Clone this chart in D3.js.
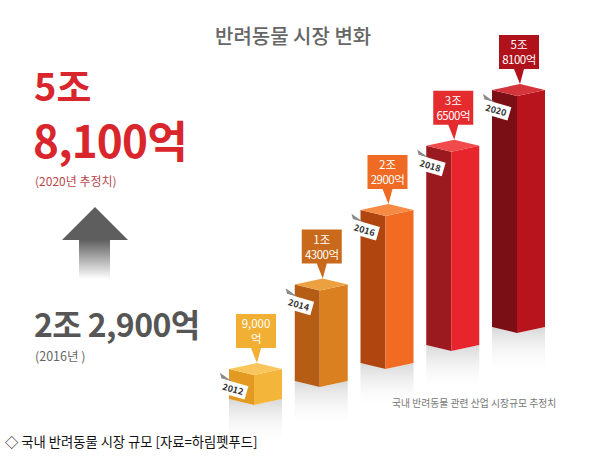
<!DOCTYPE html>
<html>
<head>
<meta charset="utf-8">
<script src="https://cdn.jsdelivr.net/npm/d3@7"></script>
<style>
    body { margin: 0; background: #fff; }
    svg { display: block; font-family: "Noto Sans CJK KR", "Noto Sans", sans-serif; }
</style>
</head>
<body>
<div class="canvas"></div>
<script>
// data (조원 단위)
const years = ['2012', '2014', '2016', '2018', '2020'];
const values = [0.90, 1.43, 2.29, 3.65, 5.81];
const labelTop = ['9,000', '1조', '2조', '3조', '5조'];
const labelBottom = ['억', '4300억', '2900억', '6500억', '8100억'];

// colours per bar
const faceLeft = ['#e39a22', '#b55c15', '#b0450f', '#9b1a20', '#7a0f15'];
const faceRight = ['#f4b53b', '#db8020', '#f26b22', '#e8242c', '#b8141d'];
const faceTop = ['#f8c65c', '#eca140', '#f78b46', '#f14a4c', '#d5353a'];
const boxFill = ['#f1b033', '#c8691b', '#ef6a22', '#e42b2e', '#b0121b'];

const dim = { width: 612, height: 456 };
const bar = { left: 25, right: 28, drop: 6 };

const svg = d3.select('.canvas').append('svg')
    .attr('width', dim.width)
    .attr('height', dim.height);

const defs = svg.append('defs');

const arrowGrad = defs.append('linearGradient')
    .attr('id', 'arrowGrad').attr('x1', 0).attr('y1', 0).attr('x2', 0).attr('y2', 1);
arrowGrad.append('stop').attr('offset', '0%').attr('stop-color', '#5c5c5c');
arrowGrad.append('stop').attr('offset', '100%').attr('stop-color', '#ffffff');

const shadowGrad = defs.append('linearGradient')
    .attr('id', 'shadowGrad').attr('x1', 0).attr('y1', 0).attr('x2', 0).attr('y2', 1);
shadowGrad.append('stop').attr('offset', '0%').attr('stop-color', '#bdbdbd').attr('stop-opacity', 0.6);
shadowGrad.append('stop').attr('offset', '100%').attr('stop-color', '#ffffff').attr('stop-opacity', 0);

// scales
const x = d3.scalePoint().domain(years).range([254, 517]);
const ground = d3.scalePoint().domain(years).range([405, 333]);
const yTop = d3.scalePow().exponent(-0.3).domain(d3.extent(values)).range([375, 96]);

const color = (arr) => d3.scaleOrdinal(years, arr);
const cLeft = color(faceLeft), cRight = color(faceRight), cTop = color(faceTop), cBox = color(boxFill);

const data = years.map((year, i) => ({
    year, value: values[i], l1: labelTop[i], l2: labelBottom[i]
}));

const pts = arr => arr.map(p => p.join(',')).join(' ');

// title
svg.append('text')
    .attr('x', 215).attr('y', 44)
    .attr('font-size', 20).attr('font-weight', 500)
    .attr('fill', '#666')
    .text('반려동물 시장 변화');

// left side summary
svg.append('text').attr('x', 34).attr('y', 101)
    .attr('font-size', 38).attr('font-weight', 700).attr('fill', '#d8262c')
    .attr('letter-spacing', 0)
    .text('5조');
svg.append('text').attr('x', 33).attr('y', 158)
    .attr('font-size', 44).attr('font-weight', 700).attr('fill', '#d8262c')
    .attr('letter-spacing', -0.8)
    .text('8,100억');
svg.append('text').attr('x', 35).attr('y', 186)
    .attr('font-size', 12).attr('fill', '#b8474b')
    .text('(2020년 추정치)');

// arrow
svg.append('path')
    .attr('d', 'M79,239 L110,239 L110,279 L79,279 Z')
    .attr('fill', 'url(#arrowGrad)');
svg.append('path')
    .attr('d', 'M62,240 L95,207 L128,240 Z')
    .attr('fill', '#5e5e5e');

svg.append('text').attr('x', 34).attr('y', 337)
    .attr('font-size', 32).attr('font-weight', 700).attr('fill', '#565656')
    .attr('letter-spacing', -0.6)
    .text('2조 2,900억');
svg.append('text').attr('x', 35).attr('y', 361)
    .attr('font-size', 12.5).attr('fill', '#666')
    .text('(2016년 )');

// bars
const graph = svg.append('g');

const bars = graph.selectAll('g.bar')
    .data(data)
    .enter().append('g')
    .attr('class', 'bar');

// soft reflection on the floor
bars.append('polygon')
    .attr('points', d => {
        const fx = x(d.year), by = ground(d.year);
        return pts([[fx - bar.left, by - bar.drop], [fx, by], [fx + bar.right, by - bar.drop],
            [fx + bar.right, by + 34], [fx, by + 40], [fx - bar.left, by + 34]]);
    })
    .attr('fill', 'url(#shadowGrad)');

bars.append('polygon')
    .attr('points', d => {
        const fx = x(d.year), by = ground(d.year), ty = yTop(d.value);
        return pts([[fx - bar.left, ty - bar.drop], [fx, ty], [fx, by], [fx - bar.left, by - bar.drop]]);
    })
    .attr('fill', d => cLeft(d.year));

bars.append('polygon')
    .attr('points', d => {
        const fx = x(d.year), by = ground(d.year), ty = yTop(d.value);
        return pts([[fx, ty], [fx + bar.right, ty - bar.drop], [fx + bar.right, by - bar.drop], [fx, by]]);
    })
    .attr('fill', d => cRight(d.year));

bars.append('polygon')
    .attr('points', d => {
        const fx = x(d.year), ty = yTop(d.value);
        return pts([[fx - bar.left, ty - bar.drop], [fx + bar.right - bar.left, ty - 2 * bar.drop],
            [fx + bar.right, ty - bar.drop], [fx, ty]]);
    })
    .attr('fill', d => cTop(d.year));

// year tags
const tags = bars.append('g')
    .attr('transform', d => `translate(${x(d.year) - 21}, ${yTop(d.value) + 14}) rotate(16)`);

tags.append('polygon')
    .attr('points', pts([[-14, -7], [-3, -7], [-17, -12]]))
    .attr('fill', '#8a8a8a');
tags.append('rect')
    .attr('x', -14).attr('y', -7).attr('width', 28).attr('height', 14)
    .attr('fill', '#fff');
tags.append('text')
    .attr('text-anchor', 'middle').attr('y', 3.5)
    .attr('font-size', 9).attr('font-weight', 700).attr('fill', '#333')
    .text(d => d.year);

// value callouts
const callouts = bars.append('g')
    .attr('transform', d => `translate(${x(d.year) + 2}, ${yTop(d.value)})`);

callouts.append('path')
    .attr('d', 'M-20,-61 L20,-61 L20,-27 L5,-27 L1,-12 L-5,-27 L-20,-27 Z')
    .attr('fill', d => cBox(d.year));
callouts.append('text')
    .attr('text-anchor', 'middle').attr('y', -47)
    .attr('font-size', 11.5).attr('fill', '#fff')
    .text(d => d.l1);
callouts.append('text')
    .attr('text-anchor', 'middle').attr('y', -32)
    .attr('font-size', 11.5).attr('fill', '#fff')
    .attr('letter-spacing', -0.5)
    .text(d => d.l2);

// footnote
svg.append('text').attr('x', 392).attr('y', 407)
    .attr('font-size', 9.8).attr('fill', '#777')
    .text('국내 반려동물 관련 산업 시장규모 추정치');

// caption
svg.append('text').attr('x', 5).attr('y', 447)
    .attr('font-size', 13.3).attr('fill', '#111')
    .text('◇ 국내 반려동물 시장 규모 [자료=하림펫푸드]');
</script>
</body>
</html>
